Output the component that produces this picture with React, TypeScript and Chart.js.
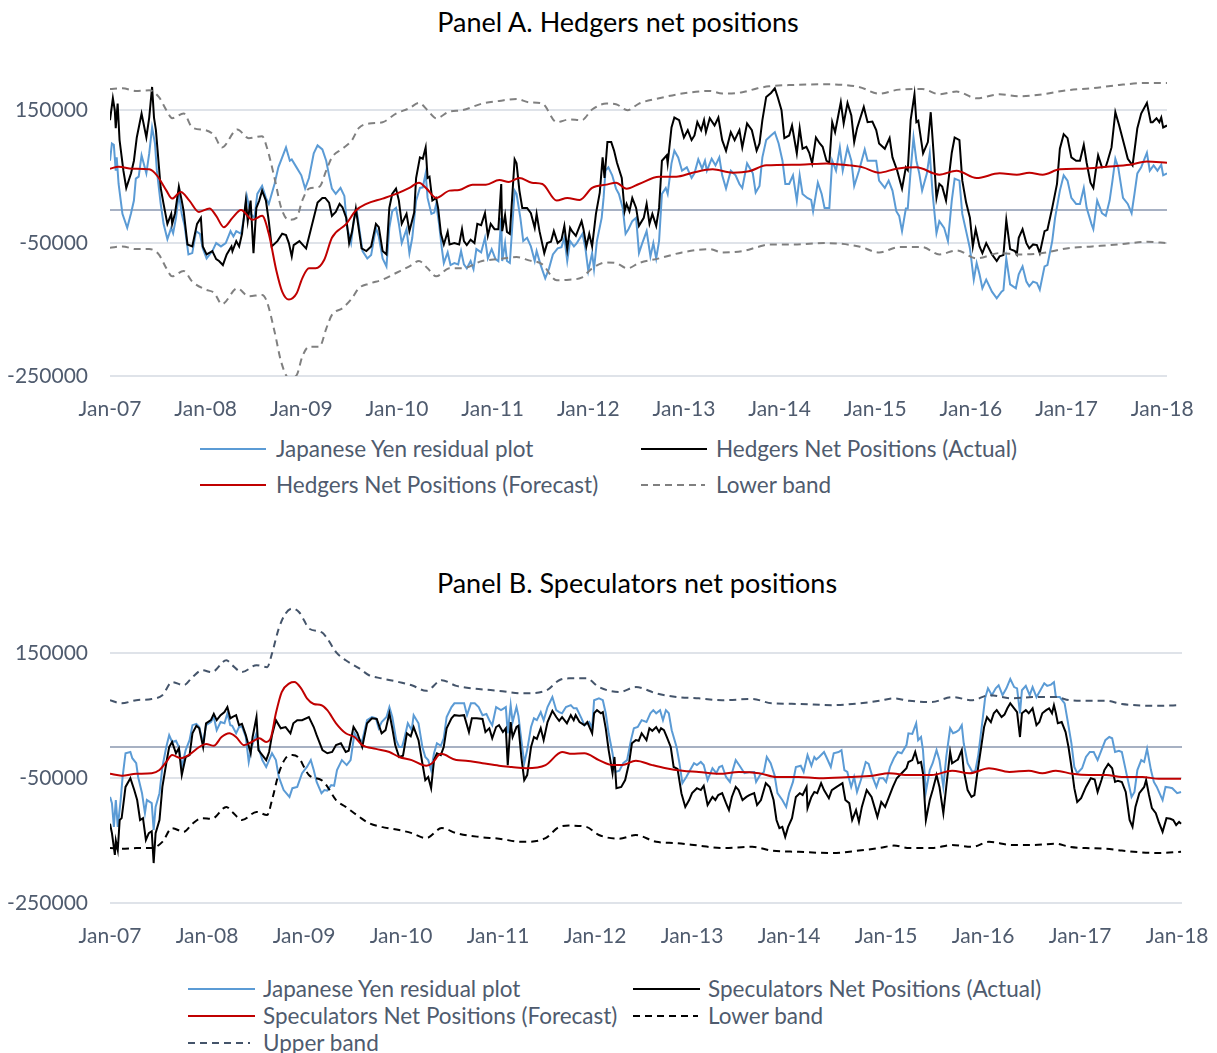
import React, { useEffect, useRef } from 'react';
import { Chart, registerables } from 'chart.js';

Chart.register(...registerables);

type Pt = [number, number];

const FONT = 'Lato, "Open Sans", sans-serif';
const TEXT = '#4f5b6e';
const GRID = '#dfe3e9';
const ZERO = '#a7b1c3';
const BLUE = '#5b9bd5';
const RED = '#c00000';
const BLACK = '#000000';
const GRAY = '#808080';
const SLATE = '#44546a';

const xTickYears = [2007, 2008, 2009, 2010, 2011, 2012, 2013, 2014, 2015, 2016, 2017, 2018];
const xTickLabels = ['Jan-07', 'Jan-08', 'Jan-09', 'Jan-10', 'Jan-11', 'Jan-12', 'Jan-13', 'Jan-14', 'Jan-15', 'Jan-16', 'Jan-17', 'Jan-18'];
// values in thousands of contracts
const yTickValues = [-250, -50, 150];

// ---------- Panel A: Hedgers ----------
const hedgersResidual: Pt[] = [[2007.00,74],[2007.02,100],[2007.04,98],[2007.06,59],[2007.07,79],[2007.09,39],[2007.13,-6],[2007.18,-27],[2007.22,-5],[2007.25,14],[2007.27,47],[2007.30,50],[2007.33,82],[2007.38,55],[2007.41,85],[2007.44,124],[2007.47,100],[2007.49,59],[2007.53,9],[2007.56,-21],[2007.60,-44],[2007.64,-27],[2007.66,-35],[2007.69,-12],[2007.72,24],[2007.75,-6],[2007.78,-24],[2007.82,-67],[2007.86,-65],[2007.90,-32],[2007.94,-36],[2007.97,-58],[2008.01,-73],[2008.07,-62],[2008.11,-50],[2008.16,-55],[2008.21,-50],[2008.26,-32],[2008.29,-40],[2008.32,-32],[2008.37,-36],[2008.40,-12],[2008.43,21],[2008.47,-6],[2008.51,-12],[2008.54,24],[2008.59,36],[2008.63,18],[2008.66,9],[2008.72,39],[2008.76,64],[2008.80,79],[2008.84,94],[2008.88,74],[2008.90,76],[2008.95,64],[2009.00,52],[2009.04,32],[2009.08,48],[2009.13,85],[2009.17,97],[2009.22,91],[2009.26,74],[2009.29,52],[2009.32,32],[2009.36,24],[2009.41,33],[2009.45,21],[2009.48,-27],[2009.52,-50],[2009.55,-14],[2009.58,-2],[2009.64,-62],[2009.69,-73],[2009.73,-68],[2009.78,-27],[2009.81,-40],[2009.85,-73],[2009.89,-85],[2009.92,-27],[2009.95,-2],[2009.99,3],[2010.02,-21],[2010.05,-50],[2010.10,-29],[2010.13,-65],[2010.16,-42],[2010.20,14],[2010.24,33],[2010.27,34],[2010.30,55],[2010.32,18],[2010.36,-6],[2010.39,-4],[2010.41,9],[2010.44,-21],[2010.47,-59],[2010.49,-80],[2010.53,-64],[2010.56,-83],[2010.60,-80],[2010.64,-82],[2010.67,-62],[2010.70,-82],[2010.73,-88],[2010.77,-77],[2010.80,-89],[2010.83,-59],[2010.88,-64],[2010.92,-42],[2010.95,-73],[2010.99,-59],[2011.03,-74],[2011.06,-77],[2011.09,-12],[2011.10,-77],[2011.13,-50],[2011.15,-77],[2011.18,-80],[2011.23,29],[2011.25,24],[2011.29,-12],[2011.32,-47],[2011.36,-42],[2011.40,-55],[2011.44,-77],[2011.46,-62],[2011.50,-82],[2011.55,-103],[2011.59,-88],[2011.63,-67],[2011.68,-58],[2011.72,-56],[2011.75,-42],[2011.78,-77],[2011.81,-47],[2011.85,-55],[2011.88,-50],[2011.94,-36],[2011.97,-58],[2012.00,-92],[2012.04,-65],[2012.06,-89],[2012.09,-47],[2012.14,-12],[2012.16,18],[2012.18,59],[2012.21,64],[2012.25,52],[2012.29,32],[2012.32,24],[2012.36,3],[2012.39,-36],[2012.42,-29],[2012.46,-17],[2012.50,-12],[2012.53,-65],[2012.56,-52],[2012.61,-32],[2012.65,-70],[2012.68,-50],[2012.71,-73],[2012.74,-47],[2012.77,24],[2012.81,33],[2012.83,24],[2012.87,70],[2012.90,89],[2012.94,79],[2012.98,59],[2013.03,64],[2013.08,48],[2013.11,55],[2013.15,76],[2013.19,62],[2013.22,74],[2013.24,59],[2013.29,77],[2013.33,67],[2013.37,79],[2013.40,52],[2013.44,32],[2013.49,59],[2013.54,52],[2013.58,39],[2013.61,33],[2013.66,70],[2013.72,55],[2013.75,26],[2013.79,36],[2013.82,79],[2013.86,105],[2013.91,112],[2013.95,117],[2013.99,100],[2014.03,74],[2014.06,39],[2014.10,39],[2014.14,52],[2014.18,14],[2014.21,52],[2014.24,24],[2014.29,18],[2014.33,15],[2014.35,-2],[2014.40,41],[2014.44,24],[2014.47,3],[2014.52,3],[2014.55,74],[2014.59,59],[2014.63,94],[2014.66,59],[2014.71,94],[2014.75,74],[2014.78,36],[2014.83,59],[2014.89,91],[2014.92,74],[2014.97,74],[2015.01,74],[2015.04,44],[2015.10,33],[2015.14,44],[2015.18,29],[2015.22,-2],[2015.25,-9],[2015.28,-32],[2015.32,2],[2015.34,2],[2015.37,59],[2015.40,109],[2015.43,74],[2015.46,55],[2015.49,29],[2015.54,55],[2015.57,85],[2015.60,24],[2015.64,-35],[2015.67,-17],[2015.72,-27],[2015.76,-47],[2015.80,14],[2015.83,47],[2015.88,44],[2015.91,-6],[2015.95,-32],[2015.99,-58],[2016.03,-105],[2016.06,-80],[2016.09,-97],[2016.12,-118],[2016.16,-105],[2016.22,-123],[2016.27,-133],[2016.32,-123],[2016.34,-121],[2016.37,-73],[2016.41,-112],[2016.47,-118],[2016.50,-97],[2016.54,-85],[2016.58,-108],[2016.61,-115],[2016.65,-108],[2016.69,-110],[2016.72,-120],[2016.77,-85],[2016.80,-83],[2016.85,-47],[2016.88,-12],[2016.93,29],[2016.97,52],[2017.01,44],[2017.05,18],[2017.10,9],[2017.14,9],[2017.18,33],[2017.21,3],[2017.26,-21],[2017.28,-29],[2017.32,14],[2017.37,-5],[2017.41,-9],[2017.45,14],[2017.48,44],[2017.51,77],[2017.54,64],[2017.59,18],[2017.64,9],[2017.68,-5],[2017.71,24],[2017.74,55],[2017.78,64],[2017.84,86],[2017.87,59],[2017.91,67],[2017.95,59],[2017.99,68],[2018.01,52],[2018.05,55]];

const hedgersActual: Pt[] = [[2007.00,135],[2007.03,168],[2007.05,150],[2007.06,123],[2007.08,160],[2007.10,105],[2007.14,59],[2007.17,33],[2007.22,55],[2007.25,74],[2007.28,109],[2007.33,145],[2007.38,109],[2007.41,139],[2007.44,185],[2007.46,139],[2007.48,120],[2007.53,33],[2007.56,9],[2007.60,-21],[2007.64,-6],[2007.65,-21],[2007.68,-5],[2007.72,35],[2007.75,14],[2007.77,-2],[2007.81,-52],[2007.86,-55],[2007.91,-21],[2007.95,-12],[2007.97,-55],[2008.01,-67],[2008.07,-62],[2008.11,-74],[2008.14,-77],[2008.18,-83],[2008.22,-67],[2008.27,-55],[2008.28,-62],[2008.32,-47],[2008.35,-55],[2008.38,-36],[2008.42,14],[2008.44,-17],[2008.47,14],[2008.50,-65],[2008.53,3],[2008.56,14],[2008.59,29],[2008.63,14],[2008.66,-17],[2008.69,-55],[2008.75,-47],[2008.80,-36],[2008.84,-38],[2008.87,-50],[2008.90,-70],[2008.92,-53],[2008.98,-47],[2009.03,-55],[2009.05,-58],[2009.10,-29],[2009.17,11],[2009.22,18],[2009.25,18],[2009.29,11],[2009.32,-9],[2009.36,-3],[2009.40,9],[2009.43,4],[2009.47,-12],[2009.50,-50],[2009.53,-33],[2009.57,2],[2009.63,-58],[2009.68,-62],[2009.73,-55],[2009.78,-21],[2009.81,-26],[2009.85,-62],[2009.89,-67],[2009.92,3],[2009.95,24],[2009.99,32],[2010.02,14],[2010.05,-21],[2010.10,-6],[2010.13,-32],[2010.18,-4],[2010.20,48],[2010.24,79],[2010.27,77],[2010.30,94],[2010.32,48],[2010.34,50],[2010.37,14],[2010.41,18],[2010.43,3],[2010.46,-36],[2010.49,-52],[2010.53,-33],[2010.55,-52],[2010.60,-50],[2010.65,-52],[2010.68,-29],[2010.70,-47],[2010.73,-53],[2010.77,-45],[2010.81,-50],[2010.84,-21],[2010.88,-23],[2010.92,-5],[2010.95,-39],[2010.98,-21],[2011.02,-29],[2011.06,-29],[2011.09,39],[2011.10,-32],[2011.13,-8],[2011.15,-33],[2011.18,-36],[2011.23,76],[2011.25,70],[2011.28,29],[2011.31,3],[2011.36,3],[2011.40,-5],[2011.44,-27],[2011.46,-6],[2011.49,-32],[2011.54,-65],[2011.57,-50],[2011.61,-48],[2011.64,-32],[2011.68,-50],[2011.72,-45],[2011.75,-24],[2011.78,-59],[2011.81,-27],[2011.83,-32],[2011.87,-39],[2011.93,-17],[2011.95,-29],[2011.98,-55],[2012.01,-36],[2012.04,-55],[2012.08,-6],[2012.12,26],[2012.15,79],[2012.17,48],[2012.20,102],[2012.24,102],[2012.27,89],[2012.30,71],[2012.35,48],[2012.38,-2],[2012.40,9],[2012.43,-2],[2012.46,18],[2012.50,3],[2012.53,-24],[2012.58,-12],[2012.61,9],[2012.64,-21],[2012.67,-6],[2012.71,-24],[2012.74,3],[2012.77,74],[2012.82,82],[2012.83,70],[2012.87,124],[2012.90,139],[2012.95,135],[2013.00,109],[2013.04,120],[2013.08,105],[2013.11,112],[2013.14,132],[2013.18,120],[2013.21,135],[2013.23,117],[2013.27,138],[2013.32,127],[2013.36,139],[2013.40,105],[2013.44,89],[2013.49,117],[2013.53,105],[2013.58,120],[2013.61,94],[2013.66,130],[2013.71,120],[2013.76,89],[2013.79,100],[2013.82,135],[2013.86,170],[2013.91,176],[2013.95,183],[2013.98,170],[2014.02,150],[2014.05,108],[2014.10,112],[2014.13,127],[2014.18,85],[2014.21,123],[2014.24,92],[2014.28,95],[2014.31,86],[2014.34,70],[2014.38,109],[2014.42,100],[2014.45,95],[2014.49,74],[2014.52,71],[2014.55,132],[2014.58,117],[2014.64,162],[2014.67,130],[2014.71,161],[2014.75,142],[2014.78,102],[2014.81,123],[2014.88,155],[2014.92,132],[2014.97,133],[2015.01,120],[2015.04,100],[2015.10,92],[2015.15,108],[2015.18,79],[2015.23,59],[2015.28,32],[2015.32,64],[2015.34,60],[2015.37,135],[2015.41,174],[2015.43,132],[2015.45,134],[2015.50,85],[2015.55,102],[2015.58,147],[2015.61,85],[2015.64,18],[2015.67,39],[2015.70,35],[2015.74,14],[2015.80,86],[2015.83,109],[2015.88,105],[2015.91,44],[2015.95,11],[2015.99,-12],[2016.02,-55],[2016.05,-29],[2016.09,-55],[2016.12,-65],[2016.16,-50],[2016.22,-67],[2016.27,-77],[2016.30,-70],[2016.34,-68],[2016.37,-15],[2016.41,-59],[2016.46,-62],[2016.48,-67],[2016.50,-42],[2016.54,-29],[2016.58,-50],[2016.61,-58],[2016.65,-52],[2016.69,-53],[2016.72,-65],[2016.77,-32],[2016.80,-30],[2016.85,3],[2016.90,39],[2016.93,92],[2016.97,114],[2017.01,108],[2017.05,79],[2017.10,74],[2017.14,74],[2017.18,98],[2017.21,71],[2017.25,41],[2017.28,33],[2017.31,64],[2017.33,82],[2017.37,64],[2017.41,65],[2017.43,74],[2017.47,94],[2017.51,147],[2017.55,127],[2017.61,94],[2017.64,77],[2017.69,67],[2017.71,89],[2017.74,123],[2017.78,145],[2017.84,161],[2017.88,132],[2017.90,132],[2017.94,138],[2017.97,132],[2017.99,139],[2018.01,124],[2018.05,127]];

const hedgersForecast: Pt[] = [[2007.00,62],[2007.09,65],[2007.23,62],[2007.41,61],[2007.49,52],[2007.59,29],[2007.65,17],[2007.74,27],[2007.83,14],[2007.93,-3],[2008.04,2],[2008.11,-9],[2008.19,-26],[2008.28,-12],[2008.37,0],[2008.49,-15],[2008.59,-9],[2008.66,-36],[2008.74,-92],[2008.80,-123],[2008.87,-135],[2008.95,-126],[2009.01,-103],[2009.08,-88],[2009.15,-88],[2009.24,-75],[2009.32,-42],[2009.47,-21],[2009.57,-1],[2009.68,9],[2009.85,17],[2009.99,24],[2010.13,33],[2010.23,41],[2010.31,32],[2010.41,18],[2010.55,29],[2010.65,30],[2010.79,38],[2010.93,38],[2011.07,45],[2011.17,42],[2011.28,48],[2011.41,41],[2011.52,39],[2011.67,14],[2011.78,18],[2011.91,15],[2012.04,33],[2012.19,38],[2012.29,41],[2012.40,32],[2012.53,39],[2012.74,50],[2012.92,50],[2013.09,56],[2013.30,61],[2013.51,56],[2013.68,58],[2013.86,67],[2014.21,68],[2014.49,70],[2014.73,67],[2014.87,64],[2015.04,56],[2015.22,62],[2015.43,64],[2015.67,53],[2015.85,59],[2016.06,48],[2016.30,55],[2016.48,53],[2016.61,56],[2016.75,53],[2016.93,61],[2017.17,62],[2017.42,65],[2017.66,68],[2017.84,73],[2018.05,71]];

const hedgersLower: Pt[] = [[2007.00,-57],[2007.13,-55],[2007.27,-59],[2007.41,-59],[2007.51,-67],[2007.59,-88],[2007.65,-100],[2007.77,-92],[2007.86,-108],[2008.00,-120],[2008.09,-125],[2008.17,-142],[2008.33,-118],[2008.45,-130],[2008.59,-128],[2008.64,-138],[2008.72,-183],[2008.79,-229],[2008.87,-253],[2008.95,-249],[2009.01,-221],[2009.08,-206],[2009.19,-206],[2009.26,-179],[2009.32,-158],[2009.43,-148],[2009.53,-133],[2009.60,-118],[2009.71,-111],[2009.85,-105],[2009.99,-95],[2010.13,-85],[2010.23,-77],[2010.32,-88],[2010.41,-100],[2010.55,-88],[2010.68,-88],[2010.89,-77],[2011.07,-74],[2011.25,-71],[2011.38,-76],[2011.52,-82],[2011.67,-106],[2011.80,-105],[2011.93,-102],[2012.04,-88],[2012.19,-79],[2012.29,-80],[2012.41,-88],[2012.53,-80],[2012.74,-73],[2012.98,-64],[2013.27,-59],[2013.40,-64],[2013.61,-62],[2013.77,-56],[2013.89,-52],[2014.13,-52],[2014.49,-50],[2014.83,-55],[2015.04,-64],[2015.25,-56],[2015.49,-56],[2015.67,-67],[2015.85,-61],[2016.06,-73],[2016.30,-65],[2016.51,-67],[2016.75,-65],[2017.00,-58],[2017.27,-55],[2017.55,-52],[2017.84,-48],[2018.05,-50]];

const hedgersUpper: Pt[] = [[2007.00,182],[2007.13,183],[2007.27,179],[2007.41,180],[2007.51,170],[2007.59,150],[2007.65,138],[2007.77,145],[2007.86,124],[2008.00,120],[2008.09,112],[2008.17,94],[2008.33,121],[2008.45,108],[2008.59,111],[2008.64,94],[2008.72,48],[2008.79,3],[2008.87,-15],[2008.95,-12],[2009.01,14],[2009.08,32],[2009.19,35],[2009.26,59],[2009.32,79],[2009.43,92],[2009.53,105],[2009.60,123],[2009.71,130],[2009.85,132],[2009.99,145],[2010.13,153],[2010.23,161],[2010.32,150],[2010.41,138],[2010.55,148],[2010.68,150],[2010.89,160],[2011.07,164],[2011.25,167],[2011.38,162],[2011.52,160],[2011.67,132],[2011.80,136],[2011.93,135],[2012.04,151],[2012.19,160],[2012.29,159],[2012.41,150],[2012.53,160],[2012.74,168],[2012.98,175],[2013.27,179],[2013.40,175],[2013.61,177],[2013.77,183],[2013.89,186],[2014.13,188],[2014.49,189],[2014.83,185],[2015.04,175],[2015.25,181],[2015.49,182],[2015.67,174],[2015.85,178],[2016.06,168],[2016.30,174],[2016.51,171],[2016.75,174],[2017.00,180],[2017.27,183],[2017.55,188],[2017.84,191],[2018.05,191]];

// ---------- Panel B: Speculators ----------
const specResidual: Pt[] = [[2007.00,-80],[2007.02,-90],[2007.04,-128],[2007.06,-85],[2007.08,-128],[2007.11,-85],[2007.13,-48],[2007.16,-10],[2007.21,-8],[2007.23,-18],[2007.27,-26],[2007.29,-48],[2007.33,-74],[2007.36,-106],[2007.38,-85],[2007.41,-88],[2007.43,-90],[2007.45,-133],[2007.47,-96],[2007.51,-74],[2007.54,-32],[2007.58,0],[2007.61,19],[2007.64,8],[2007.68,10],[2007.71,0],[2007.74,-32],[2007.78,-5],[2007.82,11],[2007.85,35],[2007.89,37],[2007.92,32],[2007.96,6],[2007.99,35],[2008.04,40],[2008.07,48],[2008.10,27],[2008.14,40],[2008.18,38],[2008.21,54],[2008.24,35],[2008.26,34],[2008.30,22],[2008.33,32],[2008.36,33],[2008.40,16],[2008.43,-24],[2008.46,0],[2008.51,22],[2008.53,0],[2008.57,-21],[2008.61,-32],[2008.64,-21],[2008.67,-10],[2008.71,-21],[2008.74,-48],[2008.79,-69],[2008.85,-80],[2008.88,-66],[2008.93,-64],[2008.98,-42],[2009.03,-32],[2009.07,-21],[2009.10,-37],[2009.13,-56],[2009.18,-74],[2009.21,-69],[2009.24,-70],[2009.28,-61],[2009.31,-62],[2009.34,-37],[2009.39,-21],[2009.44,-29],[2009.48,-21],[2009.52,22],[2009.56,11],[2009.60,10],[2009.65,43],[2009.70,48],[2009.74,46],[2009.77,30],[2009.80,40],[2009.85,48],[2009.88,64],[2009.91,48],[2009.95,11],[2009.98,0],[2010.01,0],[2010.03,11],[2010.07,38],[2010.11,27],[2010.13,51],[2010.18,38],[2010.22,0],[2010.25,-16],[2010.28,-21],[2010.31,-37],[2010.34,-10],[2010.37,6],[2010.41,2],[2010.44,14],[2010.47,48],[2010.52,64],[2010.55,70],[2010.60,70],[2010.65,70],[2010.68,51],[2010.72,70],[2010.76,70],[2010.80,64],[2010.84,51],[2010.88,53],[2010.91,43],[2010.94,35],[2010.98,64],[2011.03,59],[2011.06,62],[2011.08,64],[2011.10,22],[2011.13,67],[2011.15,40],[2011.19,64],[2011.21,50],[2011.24,11],[2011.27,-26],[2011.30,-5],[2011.34,32],[2011.37,46],[2011.40,43],[2011.44,56],[2011.47,43],[2011.51,64],[2011.56,80],[2011.60,59],[2011.63,56],[2011.66,54],[2011.70,64],[2011.75,67],[2011.78,62],[2011.81,62],[2011.86,46],[2011.89,35],[2011.94,40],[2011.97,30],[2011.99,75],[2012.04,78],[2012.08,75],[2012.11,54],[2012.14,22],[2012.18,-10],[2012.21,-40],[2012.25,-38],[2012.29,-26],[2012.33,-21],[2012.37,11],[2012.40,30],[2012.44,32],[2012.48,43],[2012.53,40],[2012.57,54],[2012.60,59],[2012.63,54],[2012.67,59],[2012.70,43],[2012.73,59],[2012.76,54],[2012.79,27],[2012.84,0],[2012.87,-26],[2012.90,-58],[2012.94,-48],[2012.98,-37],[2013.02,-26],[2013.05,-29],[2013.09,-24],[2013.12,-29],[2013.16,-53],[2013.21,-34],[2013.25,-42],[2013.28,-32],[2013.31,-30],[2013.35,-48],[2013.39,-56],[2013.42,-37],[2013.45,-21],[2013.49,-30],[2013.54,-42],[2013.59,-40],[2013.64,-40],[2013.66,-56],[2013.70,-45],[2013.74,-40],[2013.77,-16],[2013.81,-26],[2013.85,-45],[2013.88,-74],[2013.93,-85],[2013.97,-96],[2014.00,-74],[2014.04,-56],[2014.07,-32],[2014.12,-30],[2014.15,-40],[2014.19,-13],[2014.23,-30],[2014.26,-16],[2014.28,-20],[2014.31,-16],[2014.36,-8],[2014.39,-18],[2014.43,-32],[2014.46,-10],[2014.51,-8],[2014.54,-5],[2014.57,-37],[2014.60,-40],[2014.64,-64],[2014.67,-48],[2014.70,-72],[2014.74,-53],[2014.79,-24],[2014.82,-27],[2014.86,-48],[2014.90,-64],[2014.93,-50],[2014.97,-50],[2015.00,-56],[2015.04,-32],[2015.08,-18],[2015.12,-8],[2015.16,-10],[2015.21,3],[2015.23,22],[2015.27,21],[2015.31,38],[2015.33,11],[2015.36,16],[2015.38,-5],[2015.41,-72],[2015.45,-37],[2015.48,-26],[2015.52,-5],[2015.55,-21],[2015.59,-64],[2015.62,-16],[2015.66,30],[2015.69,22],[2015.72,24],[2015.75,27],[2015.78,35],[2015.80,6],[2015.84,-26],[2015.89,-40],[2015.92,-38],[2015.95,-13],[2015.99,38],[2016.02,78],[2016.05,94],[2016.09,83],[2016.13,94],[2016.16,99],[2016.20,83],[2016.24,94],[2016.28,109],[2016.32,96],[2016.35,94],[2016.38,54],[2016.40,91],[2016.44,98],[2016.48,83],[2016.51,96],[2016.55,80],[2016.59,91],[2016.63,102],[2016.66,98],[2016.70,100],[2016.73,104],[2016.75,80],[2016.79,80],[2016.84,70],[2016.87,43],[2016.91,6],[2016.94,-32],[2016.97,-42],[2017.02,-34],[2017.06,-16],[2017.10,-8],[2017.14,-8],[2017.18,-21],[2017.22,-5],[2017.26,11],[2017.30,16],[2017.33,14],[2017.36,-8],[2017.40,-6],[2017.43,-8],[2017.47,-37],[2017.53,-80],[2017.56,-72],[2017.59,-37],[2017.63,-21],[2017.66,-24],[2017.69,-3],[2017.73,-37],[2017.76,-56],[2017.79,-64],[2017.85,-85],[2017.88,-64],[2017.92,-65],[2017.95,-66],[2018.00,-74],[2018.04,-72]];

const specActual: Pt[] = [[2007.00,-123],[2007.02,-138],[2007.05,-173],[2007.06,-150],[2007.08,-165],[2007.10,-117],[2007.12,-114],[2007.16,-64],[2007.21,-50],[2007.25,-69],[2007.28,-85],[2007.31,-117],[2007.34,-114],[2007.37,-149],[2007.40,-138],[2007.43,-135],[2007.45,-186],[2007.47,-138],[2007.51,-117],[2007.54,-64],[2007.58,-26],[2007.61,0],[2007.64,8],[2007.68,-10],[2007.71,-2],[2007.74,-45],[2007.78,-16],[2007.82,-13],[2007.85,22],[2007.89,34],[2007.92,30],[2007.96,0],[2007.99,38],[2008.04,43],[2008.07,53],[2008.10,43],[2008.14,51],[2008.18,56],[2008.21,64],[2008.24,46],[2008.26,48],[2008.30,51],[2008.33,35],[2008.36,37],[2008.40,19],[2008.45,-10],[2008.47,16],[2008.51,48],[2008.53,-5],[2008.57,-13],[2008.61,-21],[2008.64,-8],[2008.67,19],[2008.71,43],[2008.76,30],[2008.81,32],[2008.86,22],[2008.89,38],[2008.93,43],[2008.98,43],[2009.05,48],[2009.10,32],[2009.13,19],[2009.19,-5],[2009.24,-10],[2009.29,-8],[2009.33,3],[2009.38,6],[2009.43,-8],[2009.46,-6],[2009.51,32],[2009.55,22],[2009.60,0],[2009.65,38],[2009.70,46],[2009.75,45],[2009.80,22],[2009.84,27],[2009.88,54],[2009.91,30],[2009.94,3],[2009.98,-16],[2010.02,-14],[2010.06,22],[2010.10,17],[2010.13,32],[2010.18,11],[2010.22,-26],[2010.25,-53],[2010.28,-48],[2010.31,-66],[2010.34,-21],[2010.37,-10],[2010.41,-13],[2010.44,0],[2010.47,30],[2010.52,46],[2010.55,51],[2010.60,50],[2010.65,51],[2010.70,24],[2010.73,46],[2010.78,46],[2010.84,45],[2010.87,24],[2010.91,30],[2010.94,14],[2010.98,32],[2011.01,35],[2011.05,24],[2011.08,30],[2011.10,-29],[2011.13,40],[2011.15,16],[2011.19,32],[2011.21,34],[2011.24,-16],[2011.27,-53],[2011.30,-45],[2011.34,0],[2011.37,16],[2011.40,13],[2011.44,30],[2011.47,11],[2011.51,40],[2011.56,58],[2011.60,48],[2011.63,42],[2011.66,48],[2011.71,38],[2011.75,51],[2011.78,43],[2011.80,51],[2011.84,40],[2011.89,35],[2011.92,40],[2011.97,22],[2011.99,54],[2012.02,59],[2012.06,54],[2012.08,56],[2012.11,30],[2012.14,-5],[2012.18,-42],[2012.20,-16],[2012.22,-66],[2012.27,-64],[2012.31,-53],[2012.35,-26],[2012.38,6],[2012.42,11],[2012.45,10],[2012.48,22],[2012.53,11],[2012.56,30],[2012.59,26],[2012.63,32],[2012.66,24],[2012.68,30],[2012.71,27],[2012.74,16],[2012.78,0],[2012.81,-32],[2012.85,-35],[2012.89,-74],[2012.93,-96],[2012.97,-85],[2013.00,-74],[2013.05,-66],[2013.09,-69],[2013.12,-62],[2013.16,-93],[2013.21,-80],[2013.24,-85],[2013.27,-77],[2013.31,-74],[2013.35,-90],[2013.38,-101],[2013.41,-80],[2013.45,-64],[2013.48,-69],[2013.52,-85],[2013.56,-80],[2013.59,-77],[2013.64,-74],[2013.67,-93],[2013.71,-85],[2013.76,-58],[2013.80,-64],[2013.84,-85],[2013.87,-117],[2013.90,-130],[2013.93,-128],[2013.96,-144],[2013.99,-128],[2014.03,-114],[2014.07,-80],[2014.11,-74],[2014.14,-77],[2014.18,-64],[2014.19,-98],[2014.23,-80],[2014.26,-72],[2014.29,-74],[2014.33,-58],[2014.36,-69],[2014.41,-82],[2014.44,-69],[2014.49,-64],[2014.55,-58],[2014.58,-85],[2014.62,-90],[2014.65,-117],[2014.69,-101],[2014.72,-120],[2014.75,-96],[2014.80,-69],[2014.85,-80],[2014.88,-96],[2014.91,-112],[2014.95,-88],[2014.99,-96],[2015.03,-80],[2015.07,-64],[2015.11,-50],[2015.16,-42],[2015.21,-34],[2015.23,-24],[2015.27,-21],[2015.30,-8],[2015.33,-26],[2015.36,-24],[2015.38,-42],[2015.41,-117],[2015.45,-85],[2015.48,-69],[2015.52,-45],[2015.55,-64],[2015.59,-106],[2015.62,-64],[2015.66,-8],[2015.68,-26],[2015.72,-22],[2015.74,-20],[2015.78,-5],[2015.80,-37],[2015.84,-69],[2015.88,-80],[2015.91,-77],[2015.94,-42],[2015.98,0],[2016.01,32],[2016.04,48],[2016.08,40],[2016.11,54],[2016.14,59],[2016.19,48],[2016.22,52],[2016.25,62],[2016.28,70],[2016.32,62],[2016.35,56],[2016.38,16],[2016.40,54],[2016.44,59],[2016.47,54],[2016.51,62],[2016.55,35],[2016.58,40],[2016.61,54],[2016.65,59],[2016.68,62],[2016.71,54],[2016.73,67],[2016.75,54],[2016.77,38],[2016.81,40],[2016.85,24],[2016.88,0],[2016.92,-42],[2016.94,-66],[2016.97,-88],[2017.01,-82],[2017.06,-64],[2017.11,-50],[2017.15,-52],[2017.18,-72],[2017.22,-53],[2017.25,-37],[2017.29,-27],[2017.33,-34],[2017.36,-56],[2017.39,-54],[2017.43,-56],[2017.47,-72],[2017.51,-117],[2017.54,-128],[2017.57,-96],[2017.61,-74],[2017.66,-64],[2017.68,-53],[2017.71,-77],[2017.74,-98],[2017.78,-106],[2017.81,-120],[2017.85,-136],[2017.89,-114],[2017.93,-115],[2017.96,-117],[2017.99,-125],[2018.02,-120],[2018.04,-123]];

const specForecast: Pt[] = [[2007.00,-43],[2007.12,-46],[2007.27,-43],[2007.43,-42],[2007.51,-37],[2007.58,-24],[2007.64,-13],[2007.73,-18],[2007.81,-13],[2007.92,0],[2007.99,5],[2008.07,2],[2008.15,16],[2008.23,22],[2008.30,16],[2008.38,3],[2008.46,8],[2008.54,14],[2008.61,8],[2008.66,16],[2008.71,54],[2008.77,88],[2008.85,102],[2008.90,104],[2008.97,94],[2009.03,78],[2009.10,69],[2009.18,67],[2009.24,59],[2009.33,38],[2009.43,22],[2009.52,16],[2009.60,3],[2009.74,-3],[2009.88,-8],[2009.98,-16],[2010.11,-21],[2010.26,-30],[2010.32,-26],[2010.41,-11],[2010.57,-21],[2010.67,-22],[2010.84,-26],[2011.01,-30],[2011.14,-32],[2011.29,-34],[2011.49,-29],[2011.66,-8],[2011.76,-11],[2011.89,-10],[2012.04,-21],[2012.18,-29],[2012.28,-29],[2012.42,-22],[2012.59,-29],[2012.73,-34],[2012.90,-38],[2013.07,-40],[2013.28,-43],[2013.48,-40],[2013.69,-42],[2013.87,-48],[2014.10,-48],[2014.31,-50],[2014.62,-48],[2014.86,-46],[2015.03,-42],[2015.24,-45],[2015.47,-45],[2015.68,-38],[2015.86,-42],[2016.06,-34],[2016.27,-40],[2016.47,-38],[2016.61,-42],[2016.75,-38],[2016.92,-43],[2017.09,-45],[2017.27,-45],[2017.43,-48],[2017.64,-48],[2017.81,-51],[2018.04,-51]];

const specLower: Pt[] = [[2007.00,-162],[2007.12,-163],[2007.27,-162],[2007.43,-162],[2007.54,-152],[2007.64,-130],[2007.76,-136],[2007.85,-123],[2007.95,-114],[2008.05,-115],[2008.20,-96],[2008.26,-104],[2008.36,-117],[2008.51,-104],[2008.62,-109],[2008.67,-85],[2008.74,-42],[2008.81,-18],[2008.88,-13],[2008.95,-18],[2009.00,-32],[2009.05,-45],[2009.18,-53],[2009.23,-61],[2009.33,-85],[2009.43,-96],[2009.57,-112],[2009.67,-122],[2009.80,-128],[2009.98,-133],[2010.11,-138],[2010.26,-146],[2010.42,-130],[2010.57,-138],[2010.80,-144],[2011.01,-147],[2011.25,-152],[2011.49,-146],[2011.63,-128],[2011.73,-126],[2011.91,-128],[2012.04,-141],[2012.25,-147],[2012.42,-141],[2012.63,-152],[2012.84,-154],[2013.07,-158],[2013.31,-162],[2013.62,-160],[2013.82,-166],[2014.10,-168],[2014.44,-170],[2014.72,-166],[2014.93,-162],[2015.08,-158],[2015.24,-162],[2015.47,-162],[2015.68,-157],[2015.89,-160],[2016.06,-152],[2016.30,-157],[2016.51,-157],[2016.75,-155],[2016.89,-160],[2017.06,-162],[2017.27,-163],[2017.43,-166],[2017.81,-170],[2018.04,-168]];

const specUpper: Pt[] = [[2007.00,75],[2007.12,70],[2007.27,75],[2007.43,77],[2007.54,83],[2007.64,104],[2007.76,99],[2007.85,112],[2007.95,123],[2008.05,120],[2008.20,139],[2008.26,131],[2008.36,120],[2008.51,131],[2008.62,128],[2008.67,150],[2008.74,190],[2008.81,214],[2008.88,222],[2008.95,216],[2009.00,203],[2009.05,190],[2009.18,184],[2009.23,176],[2009.33,152],[2009.43,139],[2009.57,126],[2009.67,115],[2009.80,110],[2009.98,104],[2010.11,99],[2010.26,90],[2010.42,107],[2010.57,98],[2010.80,93],[2011.01,90],[2011.25,86],[2011.49,90],[2011.63,107],[2011.73,110],[2011.91,110],[2012.04,96],[2012.25,88],[2012.42,96],[2012.63,86],[2012.84,80],[2013.07,78],[2013.31,75],[2013.62,77],[2013.82,70],[2014.10,69],[2014.44,67],[2014.72,70],[2014.93,74],[2015.08,78],[2015.24,74],[2015.47,72],[2015.68,80],[2015.89,75],[2016.06,83],[2016.30,78],[2016.51,80],[2016.75,80],[2016.89,75],[2017.06,74],[2017.27,74],[2017.43,69],[2017.81,66],[2018.04,67]];

type Series = { data: Pt[]; color: string; dash?: number[]; smooth?: boolean; order: number };

type PanelCfg = {
  series: Series[];
  yMax: number;
  padTop: number;
  padRight: number;
  xAxisHeight: number;
  width: number;
  height: number;
};

function PanelChart({ cfg, top }: { cfg: PanelCfg; top: number }) {
  const ref = useRef<HTMLCanvasElement | null>(null);
  useEffect(() => {
    if (!ref.current) return;
    const chart = new Chart(ref.current, {
      type: 'line',
      data: {
        datasets: cfg.series.map((s) => ({
          data: s.data.map(([x, y]) => ({ x, y })),
          borderColor: s.color,
          backgroundColor: s.color,
          borderWidth: 2,
          borderDash: s.dash || [],
          pointRadius: 0,
          fill: false,
          tension: 0,
          cubicInterpolationMode: s.smooth ? 'monotone' : 'default',
          order: s.order,
        })),
      } as any,
      options: {
        responsive: false,
        animation: false,
        events: [],
        layout: { padding: { top: cfg.padTop, right: cfg.padRight, left: 0, bottom: 0 } },
        plugins: { legend: { display: false }, tooltip: { enabled: false }, title: { display: false } },
        scales: {
          x: {
            type: 'linear',
            min: 2007,
            max: 2018.05,
            grid: { display: false, drawTicks: false },
            border: { display: false },
            afterBuildTicks: (s: any) => {
              s.ticks = xTickYears.map((v) => ({ value: v }));
            },
            afterFit: (s: any) => {
              s.height = cfg.xAxisHeight;
              s.paddingLeft = 0;
              s.paddingRight = 0;
            },
            ticks: {
              autoSkip: false,
              maxRotation: 0,
              minRotation: 0,
              padding: 21,
              color: TEXT,
              font: { family: FONT, size: 21 },
              callback: (v: any) => {
                const i = xTickYears.indexOf(Number(v));
                return i >= 0 ? xTickLabels[i] : '';
              },
            },
          },
          y: {
            type: 'linear',
            min: -250,
            max: cfg.yMax,
            grid: {
              drawTicks: false,
              lineWidth: 2,
              color: (c: any) => (c.tick && c.tick.value === 0 ? ZERO : GRID),
            },
            border: { display: false },
            afterBuildTicks: (s: any) => {
              s.ticks = [...yTickValues, 0].sort((a, b) => a - b).map((v) => ({ value: v }));
            },
            afterFit: (s: any) => {
              s.width = 110;
              s.paddingTop = 0;
              s.paddingBottom = 0;
            },
            ticks: {
              padding: 22,
              color: TEXT,
              font: { family: FONT, size: 21 },
              callback: (v: any) => (yTickValues.includes(Number(v)) ? String(Number(v) * 1000) : ''),
            },
          },
        },
      } as any,
    });
    return () => chart.destroy();
  }, [cfg]);
  return (
    <canvas
      ref={ref}
      width={cfg.width}
      height={cfg.height}
      style={{ position: 'absolute', left: 0, top, width: cfg.width, height: cfg.height, display: 'block' }}
    />
  );
}

function LegendItem({ x1, x2, tx, y, color, dash, text }: { x1: number; x2: number; tx: number; y: number; color: string; dash?: string; text: string }) {
  return (
    <>
      <svg style={{ position: 'absolute', left: x1, top: y - 3 }} width={x2 - x1} height={6}>
        <line x1={0} y1={3} x2={x2 - x1} y2={3} stroke={color} strokeWidth={2} strokeDasharray={dash} />
      </svg>
      <div
        style={{
          position: 'absolute',
          left: tx,
          top: y - 15,
          height: 30,
          lineHeight: '30px',
          fontSize: 22.5,
          color: TEXT,
          whiteSpace: 'nowrap',
          fontFamily: FONT,
        }}
      >
        {text}
      </div>
    </>
  );
}

const panelA: PanelCfg = {
  series: [
    { data: hedgersResidual, color: BLUE, order: 5 },
    { data: hedgersActual, color: BLACK, order: 4 },
    { data: hedgersForecast, color: RED, smooth: true, order: 3 },
    { data: hedgersLower, color: GRAY, dash: [7, 5], smooth: true, order: 2 },
    { data: hedgersUpper, color: GRAY, dash: [7, 5], smooth: true, order: 1 },
  ],
  yMax: 200,
  padTop: 77,
  padRight: 50,
  xAxisHeight: 54,
  width: 1217,
  height: 430,
};

const panelB: PanelCfg = {
  series: [
    { data: specResidual, color: BLUE, order: 5 },
    { data: specActual, color: BLACK, order: 4 },
    { data: specForecast, color: RED, smooth: true, order: 3 },
    { data: specLower, color: BLACK, dash: [7, 5], smooth: true, order: 2 },
    { data: specUpper, color: SLATE, dash: [7, 5], smooth: true, order: 1 },
  ],
  yMax: 250,
  padTop: 50,
  padRight: 35,
  xAxisHeight: 58,
  width: 1217,
  height: 420,
};

function Title({ text, cx, cy }: { text: string; cx: number; cy: number }) {
  return (
    <div
      style={{
        position: 'absolute',
        left: cx - 400,
        width: 800,
        top: cy - 20,
        height: 40,
        lineHeight: '40px',
        textAlign: 'center',
        fontSize: 27,
        color: '#000',
        fontFamily: FONT,
        whiteSpace: 'nowrap',
      }}
    >
      {text}
    </div>
  );
}

export default function App() {
  return (
    <div style={{ position: 'absolute', left: 0, top: 0, width: 1217, height: 1053, background: '#fff', overflow: 'hidden', fontFamily: FONT }}>
      <Title text="Panel A. Hedgers net positions" cx={618} cy={22} />
      <PanelChart cfg={panelA} top={0} />
      <LegendItem x1={200} x2={266} tx={276} y={449} color={BLUE} text="Japanese Yen residual plot" />
      <LegendItem x1={641} x2={707} tx={716} y={449} color={BLACK} text="Hedgers Net Positions (Actual)" />
      <LegendItem x1={200} x2={266} tx={276} y={485} color={RED} text="Hedgers Net Positions (Forecast)" />
      <LegendItem x1={641} x2={705} tx={716} y={485} color={GRAY} dash="7 5" text="Lower band" />

      <Title text="Panel B. Speculators net positions" cx={637} cy={583} />
      <PanelChart cfg={panelB} top={541} />
      <LegendItem x1={188} x2={255} tx={263} y={989} color={BLUE} text="Japanese Yen residual plot" />
      <LegendItem x1={633} x2={700} tx={708} y={989} color={BLACK} text="Speculators Net Positions (Actual)" />
      <LegendItem x1={188} x2={255} tx={263} y={1016} color={RED} text="Speculators Net Positions (Forecast)" />
      <LegendItem x1={633} x2={698} tx={708} y={1016} color={BLACK} dash="7 5" text="Lower band" />
      <LegendItem x1={188} x2={250} tx={263} y={1043} color={SLATE} dash="7 5" text="Upper band" />
    </div>
  );
}
